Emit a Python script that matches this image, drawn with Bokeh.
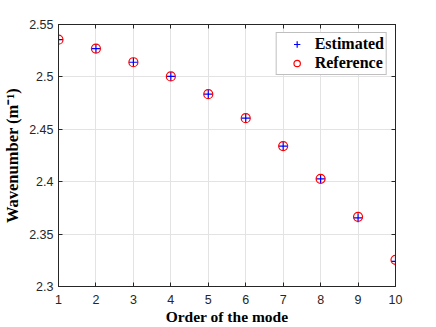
from bokeh.plotting import figure
from bokeh.models import (LinearAxis, FixedTicker, CustomJSTickFormatter, Range1d,
                          ColumnDataSource, Legend, LegendItem)
from bokeh.embed import file_html
from bokeh.resources import INLINE

# data
mode_order = [1, 2, 3, 4, 5, 6, 7, 8, 9, 10]
estimated = [2.5355, 2.527, 2.514, 2.5005, 2.4835, 2.4606, 2.434, 2.4027, 2.3655, 2.324]
reference = [2.5355, 2.527, 2.514, 2.5005, 2.4835, 2.4606, 2.434, 2.4027, 2.3665, 2.3255]
x_ticks = [1, 2, 3, 4, 5, 6, 7, 8, 9, 10]
y_ticks = [2.3, 2.35, 2.4, 2.45, 2.5, 2.55]

AX = "#262626"
GRID = "#e3e3e3"
SERIF = "Liberation Serif"
SANS = "Liberation Sans"

p = figure(width=436, height=327, output_backend="svg", toolbar_location=None,
           x_range=Range1d(1, 10), y_range=Range1d(2.3, 2.55),
           min_border_left=57, min_border_right=41, min_border_top=24, min_border_bottom=40,
           background_fill_color="white", border_fill_color="white")
p.outline_line_color = AX
p.outline_line_width = 1

fmt = CustomJSTickFormatter(code="return String(Number(tick.toFixed(2)));")
blank = CustomJSTickFormatter(code="return '';")

for ax, ticks in ((p.xaxis[0], x_ticks), (p.yaxis[0], y_ticks)):
    ax.ticker = FixedTicker(ticks=ticks)
    ax.formatter = fmt
    ax.major_tick_in = 4
    ax.major_tick_out = 0
    ax.minor_tick_line_color = None
    ax.axis_line_color = AX
    ax.major_tick_line_color = AX
    ax.major_label_text_font = SANS
    ax.major_label_text_font_size = "12.5px"
    ax.major_label_text_color = AX
    ax.axis_label_text_font = SERIF
    ax.axis_label_text_font_style = "bold"
    ax.axis_label_text_color = "#000000"

p.xaxis[0].axis_label = "Order of the mode"
p.xaxis[0].axis_label_text_font_size = "15.5px"
p.xaxis[0].major_label_standoff = 8
p.xaxis[0].axis_label_standoff = 1
p.yaxis[0].axis_label = "Wavenumber (m\u207b\u00b9)"
p.yaxis[0].axis_label_text_font_size = "16.5px"
p.yaxis[0].major_label_standoff = 5
p.yaxis[0].axis_label_standoff = 4

for loc, ticks in (("above", x_ticks), ("right", y_ticks)):
    a = LinearAxis(ticker=FixedTicker(ticks=ticks), formatter=blank,
                   major_tick_in=4, major_tick_out=0, minor_tick_line_color=None,
                   axis_line_color=AX, major_tick_line_color=AX,
                   major_label_text_font_size="0px", major_label_standoff=0)
    p.add_layout(a, loc)

p.xgrid.ticker = FixedTicker(ticks=x_ticks)
p.ygrid.ticker = FixedTicker(ticks=y_ticks)
p.xgrid.grid_line_color = GRID
p.ygrid.grid_line_color = GRID

src = ColumnDataSource(dict(x=mode_order, est=estimated, ref=reference))
r_est = p.scatter("x", "est", source=src, marker="cross", size=9,
                  line_color="#0000ff", line_width=1.2)
r_ref = p.scatter("x", "ref", source=src, marker="circle", size=9,
                  fill_color=None, line_color="#ff0000", line_width=1.2)

legend = Legend(items=[LegendItem(label="Estimated", renderers=[r_est]),
                       LegendItem(label="Reference", renderers=[r_ref])],
                location="top_right")
legend.label_text_font = SERIF
legend.label_text_font_style = "bold"
legend.label_text_font_size = "16px"
legend.label_text_color = "#000000"
legend.border_line_color = "#7f7f7f"
legend.border_line_width = 1
legend.background_fill_color = "white"
legend.background_fill_alpha = 1
legend.glyph_height = 16
legend.label_height = 16
legend.glyph_width = 36
legend.spacing = 1
legend.padding = 2
legend.margin = 8
legend.label_standoff = 0
p.add_layout(legend, "center")

open("out.html", "w").write(file_html(p, INLINE))
